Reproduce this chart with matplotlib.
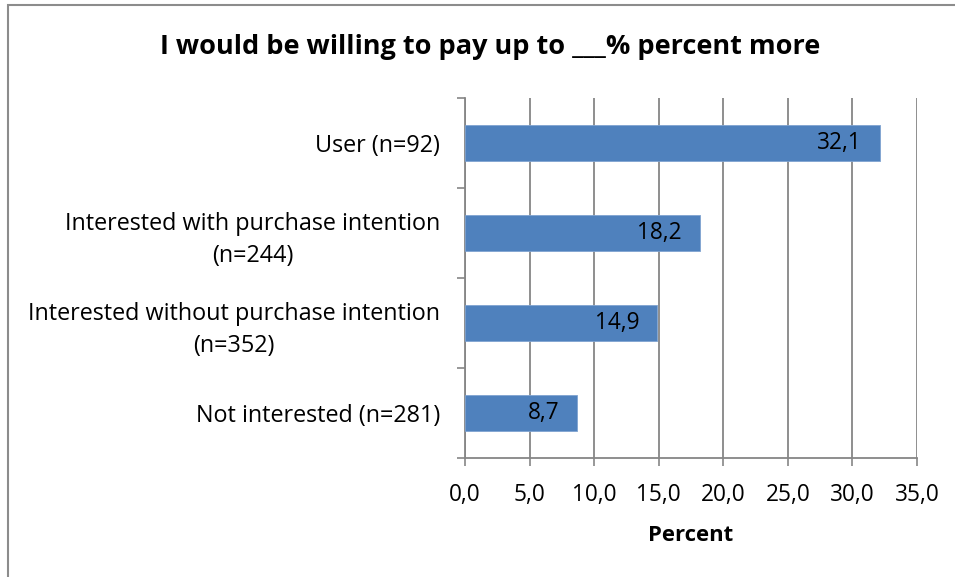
import matplotlib
matplotlib.use('Agg')
import matplotlib.pyplot as plt
from matplotlib.patches import Rectangle

categories = ['Not interested (n=281)',
              'Interested without purchase intention\n(n=352)',
              'Interested with purchase intention\n(n=244)',
              'User (n=92)']
values = [8.7, 14.9, 18.2, 32.1]
xticks = [0, 5, 10, 15, 20, 25, 30, 35]

plt.rcParams['font.family'] = ['Open Sans', 'DejaVu Sans']

fig = plt.figure(figsize=(9.55, 5.77), dpi=100)
fig.patches.append(Rectangle((8/955, -0.1), 1.2, 1 - 5/577 + 0.1, transform=fig.transFigure,
                             fill=False, edgecolor='#8c8c8c', linewidth=1.5))
ax = fig.add_axes([465/955, 1 - 458/577, 452/955, 360/577])

pos = range(len(categories))
ax.barh(pos, values, height=0.4, color='#4F81BD', edgecolor='#7fa3d0', linewidth=0.6, zorder=3)
for p, v in zip(pos, values):
    ax.annotate(f'{v:.1f}'.replace('.', ','), (v, p), xytext=(-13, 0), textcoords='offset points',
                ha='right', va='center', fontsize=16.3, color='black', zorder=4)

ax.set_xlim(0, 35)
ax.set_ylim(-0.5, 3.5)
ax.set_xticks(xticks)
ax.set_xticklabels([f'{t:.1f}'.replace('.', ',') for t in xticks], fontsize=16.3)
ax.set_yticks([-0.5, 0.5, 1.5, 2.5, 3.5])
ax.set_yticklabels([])
ax.set_yticks(list(pos), minor=True)
ax.set_yticklabels(categories, minor=True, fontsize=16.8, ha='right', multialignment='center',
                   linespacing=1.45)
ax.tick_params(axis='y', which='minor', length=0, pad=18)
ax.tick_params(axis='y', which='major', length=6, color='#868686', width=1.2)
ax.tick_params(axis='x', length=6, color='#868686', width=1.2, pad=12)
ax.grid(axis='x', color='#868686', linewidth=1.3, zorder=0)
for s in ['top', 'right']:
    ax.spines[s].set_visible(False)
for s in ['left', 'bottom']:
    ax.spines[s].set_color('#868686')
    ax.spines[s].set_linewidth(1.3)

ax.set_xlabel('Percent', fontsize=15.9, fontweight='bold', labelpad=13)
fig.text(490/955, 1 - 47/577, 'I would be willing to pay up to ___% percent more',
         ha='center', va='center', fontsize=19.5, fontweight='bold')

fig.savefig('out.png', dpi=100)
